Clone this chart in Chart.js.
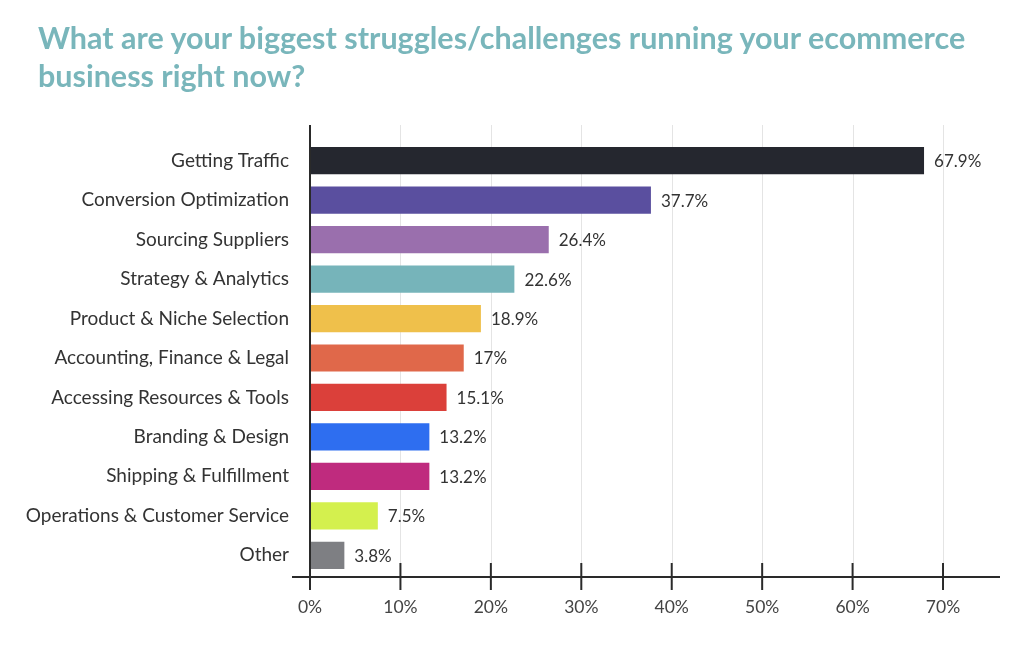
<!DOCTYPE html>
<html>
<head>
<meta charset="utf-8">
<script src="https://cdn.jsdelivr.net/npm/chart.js@4.4.1/dist/chart.umd.min.js"></script>
<style>
  html, body { margin: 0; padding: 0; background: #ffffff; }
  #wrap { position: relative; width: 1024px; height: 653px; }
  #title { position: absolute; left: 38px; top: 18px; font-family: 'Lato', sans-serif; font-weight: 700;
           font-size: 30.5px; line-height: 38px; color: #79b6bb; white-space: nowrap; }
  canvas { position: absolute; left: 0; top: 0; }
</style>
</head>
<body>
<div id="wrap">
  <canvas id="c" width="1024" height="653"></canvas>
  <div id="title">What are your biggest struggles/challenges running your ecommerce<br>business right now?</div>
</div>
<script>
const categories = [
  "Getting Traffic",
  "Conversion Optimization",
  "Sourcing Suppliers",
  "Strategy & Analytics",
  "Product & Niche Selection",
  "Accounting, Finance & Legal",
  "Accessing Resources & Tools",
  "Branding & Design",
  "Shipping & Fulfillment",
  "Operations & Customer Service",
  "Other"
];
const values = [67.9, 37.7, 26.4, 22.6, 18.9, 17, 15.1, 13.2, 13.2, 7.5, 3.8];
const barColors = ["#25272f", "#5a4f9f", "#9a6fad", "#76b4ba", "#efc04b", "#e0684a", "#db403a", "#2e6ef0", "#bf2b7e", "#d4f04e", "#7e7f83"];
const tickValues = [0, 10, 20, 30, 40, 50, 60, 70];

const FONT = "'Lato', sans-serif";

const decor = {
  id: 'decor',
  beforeDatasetsDraw(chart) {
    const ctx = chart.ctx, x = chart.scales.x, a = chart.chartArea;
    ctx.save();
    ctx.strokeStyle = '#e4e4e4';
    ctx.lineWidth = 1;
    tickValues.forEach(v => {
      if (v === 0) return;
      const px = Math.round(x.getPixelForValue(v)) + 0.5;
      ctx.beginPath(); ctx.moveTo(px, 125); ctx.lineTo(px, a.bottom - 12); ctx.stroke();
    });
    ctx.restore();
  },
  afterDatasetsDraw(chart) {
    const ctx = chart.ctx, x = chart.scales.x, a = chart.chartArea;
    const ay = a.bottom + 2;
    ctx.save();
    ctx.strokeStyle = '#2a2a2a';
    ctx.lineWidth = 2;
    ctx.beginPath(); ctx.moveTo(292, ay); ctx.lineTo(1000, ay); ctx.stroke();
    const x0 = x.getPixelForValue(0);
    ctx.beginPath(); ctx.moveTo(x0, 125); ctx.lineTo(x0, ay + 13); ctx.stroke();
    tickValues.forEach(v => {
      const px = x.getPixelForValue(v);
      ctx.beginPath(); ctx.moveTo(px, ay - 14); ctx.lineTo(px, ay + 13); ctx.stroke();
    });
    ctx.fillStyle = '#333333';
    ctx.font = "17px " + FONT;
    ctx.textBaseline = 'middle';
    ctx.textAlign = 'left';
    const meta = chart.getDatasetMeta(0);
    meta.data.forEach((bar, i) => {
      ctx.fillText(values[i] + '%', bar.x + 10, bar.y + 1);
    });
    ctx.restore();
  }
};

new Chart(document.getElementById('c'), {
  type: 'bar',
  data: {
    labels: categories,
    datasets: [{
      data: values,
      backgroundColor: barColors,
      borderWidth: 0,
      barPercentage: 0.69,
      categoryPercentage: 1
    }]
  },
  options: {
    indexAxis: 'y',
    responsive: false,
    animation: false,
    layout: { padding: { top: 141, right: 24, left: 0, bottom: 0 } },
    plugins: { legend: { display: false }, tooltip: { enabled: false } },
    scales: {
      x: {
        min: 0, max: 76.3,
        afterBuildTicks(scale) { scale.ticks = tickValues.map(v => ({ value: v })); },
        afterFit(scale) { scale.height = 78; },
        grid: { display: false, drawTicks: false },
        border: { display: false },
        ticks: { padding: 22, color: '#444444', font: { family: FONT, size: 17.5 }, callback: v => v + '%' }
      },
      y: {
        afterFit(scale) { scale.width = 310; },
        grid: { display: false, drawTicks: false },
        border: { display: false },
        ticks: { padding: 21, color: '#333333', font: { family: FONT, size: 19 } }
      }
    }
  },
  plugins: [decor]
});
</script>
</body>
</html>
